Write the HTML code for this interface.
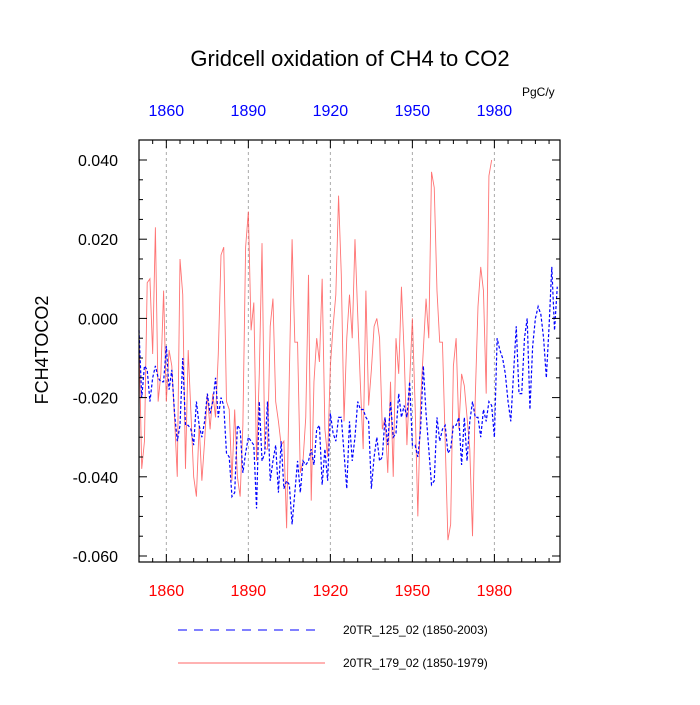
<!DOCTYPE html>
<html><head><meta charset="utf-8"><style>
body{margin:0;background:#fff;}
svg text{font-family:"Liberation Sans",sans-serif;}
</style></head><body>
<svg id="chart" width="700" height="700" xmlns="http://www.w3.org/2000/svg">
<text x="350" y="66" font-size="22" text-anchor="middle">Gridcell oxidation of CH4 to CO2</text>
<text x="522" y="96" font-size="12">PgC/y</text>
<text transform="translate(48,350) rotate(-90)" font-size="18" text-anchor="middle">FCH4TOCO2</text>
<g id="grid"></g>
<g id="series"></g>
<rect x="139" y="140" width="421" height="422" fill="none" stroke="#000" stroke-width="1.2"/>
<g id="axes"></g>
<line x1="178" y1="630" x2="318" y2="630" stroke="#0000ff" stroke-width="1" stroke-dasharray="9,7"/>
<text x="343" y="634" font-size="12">20TR_125_02 (1850-2003)</text>
<line x1="178" y1="663" x2="325" y2="663" stroke="#ff6666" stroke-width="1"/>
<text x="343" y="667" font-size="12">20TR_179_02 (1850-1979)</text>
</svg>
<script>
const blueStart = 1850;
const blueValues = [-0.003,-0.020,-0.012,-0.013,-0.021,-0.015,-0.012,-0.015,-0.016,-0.016,
-0.007,-0.018,-0.013,-0.024,-0.031,-0.027,-0.010,-0.027,-0.027,-0.028,
-0.032,-0.021,-0.027,-0.030,-0.026,-0.019,-0.024,-0.021,-0.015,-0.025,
-0.020,-0.022,-0.034,-0.035,-0.045,-0.044,-0.027,-0.028,-0.039,-0.034,
-0.030,-0.031,-0.032,-0.048,-0.021,-0.036,-0.034,-0.021,-0.041,-0.036,
-0.032,-0.044,-0.031,-0.043,-0.041,-0.042,-0.052,-0.044,-0.036,-0.044,
-0.036,-0.037,-0.036,-0.033,-0.037,-0.028,-0.027,-0.042,-0.033,-0.041,
-0.024,-0.029,-0.031,-0.025,-0.025,-0.034,-0.043,-0.026,-0.036,-0.030,
-0.021,-0.023,-0.023,-0.025,-0.026,-0.043,-0.035,-0.030,-0.036,-0.035,
-0.025,-0.032,-0.021,-0.030,-0.029,-0.019,-0.025,-0.022,-0.025,-0.016,
-0.032,-0.032,-0.035,-0.028,-0.012,-0.024,-0.033,-0.042,-0.041,-0.025,
-0.031,-0.028,-0.027,-0.034,-0.033,-0.027,-0.027,-0.025,-0.037,-0.025,
-0.036,-0.026,-0.021,-0.025,-0.025,-0.030,-0.023,-0.026,-0.021,-0.022,
-0.030,-0.005,-0.008,-0.010,-0.014,-0.021,-0.026,-0.014,-0.002,-0.019,
-0.019,-0.005,0.000,-0.023,-0.007,0.000,0.003,0.001,-0.005,-0.015,
-0.002,0.013,-0.003,0.008];
const redStart = 1850;
const redValues = [-0.004,-0.038,-0.031,0.009,0.010,-0.009,0.023,-0.021,-0.014,0.007,
-0.021,-0.008,-0.012,-0.025,-0.040,0.015,0.006,-0.038,-0.008,-0.024,
-0.040,-0.045,-0.027,-0.041,-0.031,-0.019,-0.028,-0.019,-0.025,-0.009,
0.016,0.018,-0.021,-0.023,-0.041,-0.023,-0.040,-0.045,-0.027,0.018,
0.027,-0.003,0.004,-0.036,-0.014,0.019,-0.033,-0.033,-0.002,0.005,
-0.021,-0.026,-0.032,-0.031,-0.053,-0.014,0.020,-0.006,-0.006,-0.039,
-0.036,-0.025,0.011,-0.046,-0.016,-0.005,-0.011,0.010,-0.028,-0.035,
-0.012,-0.002,0.006,0.031,0.011,-0.026,-0.005,0.006,-0.005,0.020,
0.001,-0.017,-0.033,0.007,-0.022,-0.013,-0.002,0.000,-0.005,-0.028,
-0.025,-0.039,-0.016,-0.040,-0.005,-0.014,0.008,-0.009,-0.032,-0.016,
0.000,-0.022,-0.050,-0.021,-0.008,0.005,-0.005,0.037,0.033,0.007,
-0.006,-0.006,-0.031,-0.056,-0.052,-0.012,-0.005,-0.028,-0.014,-0.017,
-0.025,-0.033,-0.055,-0.020,0.003,0.013,0.007,-0.019,0.036,0.040];
const yTicks = [0.04,0.02,0.0,-0.02,-0.04,-0.06];
const yTickLabels = ["0.040","0.020","0.000","-0.020","-0.040","-0.060"];
const xTicks = [1860,1890,1920,1950,1980];

const NS='http://www.w3.org/2000/svg';
const X0=139,X1=560,xMin=1850,xMax=2004;
const xs=v=>X0+(v-xMin)*(X1-X0)/(xMax-xMin);
const ys=v=>160+(0.04-v)*396/0.1;
function mk(tag,attrs,parent){const e=document.createElementNS(NS,tag);for(const k in attrs)e.setAttribute(k,attrs[k]);parent.appendChild(e);return e;}
const grid=document.getElementById('grid'),axes=document.getElementById('axes'),series=document.getElementById('series');
xTicks.forEach(t=>{
  const g=mk('line',{x1:xs(t),x2:xs(t),y1:140,y2:562,stroke:'#aaa','stroke-width':1,'stroke-dasharray':'3,3'},grid);
  
  
  const b=mk('text',{x:xs(t),y:596,'font-size':16,'text-anchor':'middle',fill:'#ff0000'},axes);b.textContent=t;
  
  
  const tp=mk('text',{x:xs(t),y:116,'font-size':16,'text-anchor':'middle',fill:'#0000ff'},axes);tp.textContent=t;
  
  
});
for(let yr=1850;yr<=2000;yr+=5){
  const major=xTicks.includes(yr);const L=major?8:4;
  mk('line',{x1:xs(yr),x2:xs(yr),y1:562,y2:562-L,stroke:'#000'},axes);
  mk('line',{x1:xs(yr),x2:xs(yr),y1:140,y2:140+L,stroke:'#000'},axes);
}
for(let i=0;i<=20;i++){
  const v=0.04-i*0.005;const major=i%4===0;const L=major?8:4;
  mk('line',{x1:139,x2:139+L,y1:ys(v),y2:ys(v),stroke:'#000'},axes);
  mk('line',{x1:560,x2:560-L,y1:ys(v),y2:ys(v),stroke:'#000'},axes);
}
yTicks.forEach((v,i)=>{
  const t=mk('text',{x:118,y:ys(v)+6,'font-size':16,'text-anchor':'end'},axes);t.textContent=yTickLabels[i];
  
  
});
const rp=mk('polyline',{points:redValues.map((v,i)=>xs(redStart+i)+','+ys(v)).join(' '),fill:'none',stroke:'#ff4444','stroke-width':0.9,'stroke-opacity':0.75},series);


const bp=mk('polyline',{points:blueValues.map((v,i)=>xs(blueStart+i)+','+ys(v)).join(' '),fill:'none',stroke:'#0000ff','stroke-width':1.2,'stroke-dasharray':'3,2'},series);


</script>
</body></html>
